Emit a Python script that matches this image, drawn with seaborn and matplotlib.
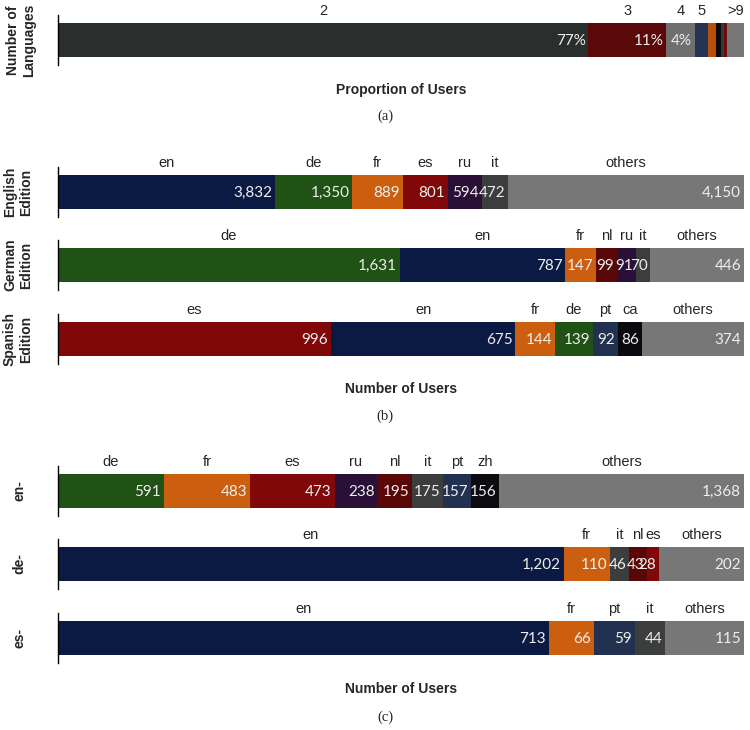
import numpy as np
import pandas as pd
import matplotlib.pyplot as plt
import seaborn as sns

# (a) how many languages each multilingual user edits in (percent of users)
count_names = ['2', '3', '4', '5', '6', '7', '8', '9', '>9']
count_pct = [77.3, 11.4, 4.1, 1.9, 1.2, 0.7, 0.45, 0.45, 2.5]
count_tops = ['2', '3', '4', '5', '', '', '', '', '>9']
count_vals = ['77%', '11%', '4%', '', '', '', '', '', '']
count_colors = ['#2a2e2d', '#5a0808', '#6f6f6f', '#263454', '#b5500b',
                '#0a0a0a', '#2f3a3a', '#6b0d0d', '#777777']

# (b) other languages of users per edition
en_ed_langs = ['en', 'de', 'fr', 'es', 'ru', 'it', 'others']
en_ed_users = [3832, 1350, 889, 801, 594, 472, 4150]
de_ed_langs = ['de', 'en', 'fr', 'nl', 'ru', 'it', 'others']
de_ed_users = [1631, 787, 147, 99, 91, 70, 446]
es_ed_langs = ['es', 'en', 'fr', 'de', 'pt', 'ca', 'others']
es_ed_users = [996, 675, 144, 139, 92, 86, 374]

# (c) second language of en-, de-, es- users
en_langs = ['de', 'fr', 'es', 'ru', 'nl', 'it', 'pt', 'zh', 'others']
en_users = [591, 483, 473, 238, 195, 175, 157, 156, 1368]
de_langs = ['en', 'fr', 'it', 'nl', 'es', 'others']
de_users = [1202, 110, 46, 43, 28, 202]
es_langs = ['en', 'fr', 'pt', 'it', 'others']
es_users = [713, 66, 59, 44, 115]

lang_colors = {'en': '#0b1a42', 'de': '#1f5214', 'fr': '#cc5f0f', 'es': '#810808',
               'ru': '#2a0f36', 'it': '#3c3d3d', 'others': '#777777', 'nl': '#5a0707',
               'pt': '#223150', 'ca': '#0a0a10', 'zh': '#0b0b10'}

sns.set_style('white')
plt.rcParams['font.family'] = ['Liberation Sans', 'DejaVu Sans']

W, H = 750, 730
fig = plt.figure(figsize=(7.5, 7.3), dpi=100)


def make_ax(top_px):
    # top_px = top of the spine in pixels, axis is 50px tall
    return fig.add_axes([58 / W, 1 - (top_px + 50) / H, 686 / W, 50 / H])


def draw_row(ax, values, colors, tops, vals, ylabel, label_x=20):
    total = float(sum(values))
    cum = np.cumsum(values) / total
    # stacked bar: draw cumulative bars from the longest to the shortest
    for i in range(len(values) - 1, -1, -1):
        sns.barplot(x=[cum[i]], y=['r'], color=colors[i], saturation=1,
                    width=0.68, orient='h', errorbar=None, linewidth=0, ax=ax)
    starts = np.concatenate([[0], cum[:-1]])
    for s, e, t, v in zip(starts, cum, tops, vals):
        if t:
            ax.text((s + e) / 2, 1.0, t, transform=ax.get_xaxis_transform(),
                    ha='center', va='baseline', fontsize=10.5)
        if v:
            ax.annotate(v, xy=(e, 0), xytext=(-2, -1), textcoords='offset points',
                        ha='right', va='center', fontsize=11, color='#eeeeee',
                        family=['Lato', 'DejaVu Sans'])
    ax.set_xlim(0, 1)
    ax.set_xticks([])
    ax.set_yticks([])
    ax.set_xlabel('')
    ax.set_ylabel(ylabel, fontsize=10, fontweight='bold', rotation=90,
                  ha='center', va='center')
    ax.yaxis.set_label_coords((label_x - 58) / 686, 0.5)
    for side in ['top', 'right', 'bottom']:
        ax.spines[side].set_visible(False)
    ax.spines['left'].set_color('black')
    ax.spines['left'].set_linewidth(1)


def xlab(ax, text, off=25):
    ax.set_xlabel(text, fontsize=10, fontweight='bold', va='center')
    ax.xaxis.set_label_coords(0.5, -off / 50)


# (a)
ax = make_ax(15)
draw_row(ax, count_pct, count_colors, count_tops, count_vals, 'Number of\nLanguages', 21)
xlab(ax, 'Proportion of Users')

# (b)
editions = [('English\nEdition', en_ed_langs, en_ed_users, 167),
            ('German\nEdition', de_ed_langs, de_ed_users, 240),
            ('Spanish\nEdition', es_ed_langs, es_ed_users, 314)]
for name, langs, users, top in editions:
    ax = make_ax(top)
    draw_row(ax, users, [lang_colors[l] for l in langs], langs,
             [f'{u:,}' for u in users], name, 18)
xlab(ax, 'Number of Users')

# (c)
firsts = [('en-', en_langs, en_users, 466),
          ('de-', de_langs, de_users, 539),
          ('es-', es_langs, es_users, 613)]
for name, langs, users, top in firsts:
    ax = make_ax(top)
    draw_row(ax, users, [lang_colors[l] for l in langs], langs,
             [f'{u:,}' for u in users], name, 19)
xlab(ax, 'Number of Users', 26)

for cap, y in [('(a)', 116), ('(b)', 416), ('(c)', 717)]:
    fig.text(385 / W, 1 - y / H, cap, ha='center', va='center', fontsize=10.5,
             family=['Liberation Serif', 'DejaVu Serif'])

plt.savefig('out.png', dpi=100)
plt.close()
